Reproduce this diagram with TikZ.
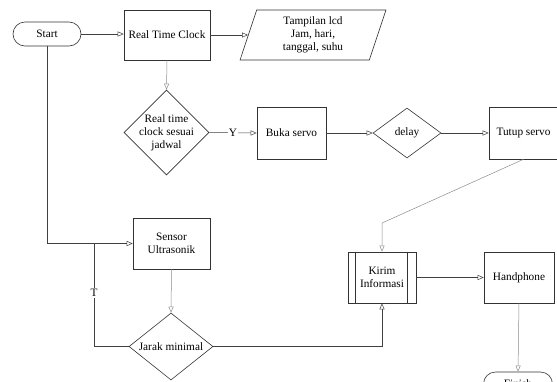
\documentclass[tikz,border=0pt]{standalone}
\usepackage{fontspec}
\setmainfont{Liberation Serif}
\usetikzlibrary{arrows.meta,shapes.geometric}
\begin{document}
\begin{tikzpicture}[x=1pt,y=-1pt,
  font=\fontsize{11.3}{13}\selectfont,
  box/.style={draw=black!80, line width=0.6pt, rectangle, align=center, inner sep=2pt},
  term/.style={draw=black!80, line width=0.6pt, rectangle, rounded corners=12pt, minimum width=68pt, minimum height=24pt, align=center},
  dia/.style={draw=black!80, line width=0.6pt, diamond, inner sep=0pt},
  txt/.style={align=center, inner sep=0pt},
  conn/.style={draw=black!75, line width=0.5pt},
  lconn/.style={draw=black!45, line width=0.5pt},
  arr/.style={-{Triangle[open, length=6pt, width=5pt]}}
]
\useasboundingbox (0,0) rectangle (557,381);

% nodes
\node[term] (start) at (47,34) {Start};
\node[box, minimum width=86pt, minimum height=50pt] (rtc) at (167,35) {Real Time Clock};
\node[draw=black!80, line width=0.6pt, trapezium, trapezium left angle=76.5, trapezium right angle=103.5,
      trapezium stretches=true, minimum width=146pt, minimum height=50pt, align=center, inner sep=1pt] (lcd) at (313,35)
      {Tampilan lcd\\Jam, hari,\\tanggal, suhu};
\node[dia, minimum width=85pt, minimum height=85pt] (cek) at (166.5,132.5) {};
\node[txt] at (cek) {Real time\\clock sesuai\\jadwal};
\node[box, minimum width=69pt, minimum height=52pt] (buka) at (291.5,133) {Buka servo};
\node[dia, minimum width=68pt, minimum height=50pt] (delay) at (407,133) {};
\node[txt] at (delay) {delay};
\node[box, minimum width=69pt, minimum height=52pt] (tutup) at (523.5,133) {Tutup servo};
\node[box, minimum width=77pt, minimum height=51pt] (sensor) at (171.5,243.5) {Sensor\\Ultrasonik};
\node[dia, minimum width=84pt, minimum height=67pt] (jarak) at (171,346.5) {};
\node[txt] at (jarak) {Jarak minimal};
\node[box, minimum width=68pt, minimum height=51pt] (kirim) at (382,277.5) {Kirim\\Informasi};
\draw[draw=black!80, line width=0.6pt] ([xshift=8pt]kirim.north west) -- ([xshift=8pt]kirim.south west);
\draw[draw=black!80, line width=0.6pt] ([xshift=-9pt]kirim.north east) -- ([xshift=-9pt]kirim.south east);
\node[box, minimum width=70pt, minimum height=51pt] (hp) at (519,277.5) {Handphone};
\node[term, minimum width=69pt] (fin) at (518,384) {Finish};

\coordinate (bend1) at (382,223);
\coordinate (tx) at (94,346);

% connectors
\draw[conn, arr] (start.east) -- (start.east -| rtc.west);
\draw[conn, arr] (rtc.east) -- (rtc.east -| lcd.west);
\draw[lconn, arr] (rtc.south) -- (cek.north);
\draw[conn, arr] (cek.east) -- node[fill=white, inner sep=1pt] {Y} (buka.west);
\draw[conn, arr] (buka.east) -- (delay.west);
\draw[conn, arr] (delay.east) -- (tutup.west);
\draw[lconn, arr] (tutup.south) -- (bend1) -- (kirim.north);
\draw[conn, arr] (start.south) |- (sensor.west);
\draw[lconn, arr] (sensor.south) -- (jarak.north);
\draw[conn] (jarak.west) -| node[pos=0.76, fill=white, inner sep=1pt] {T} (tx |- sensor.west);
\draw[conn, arr] (jarak.east) -| (kirim.south);
\draw[conn, arr] (kirim.east) -- (hp.west);
\draw[lconn, arr] (hp.south) -- (fin.north);
\end{tikzpicture}
\end{document}
